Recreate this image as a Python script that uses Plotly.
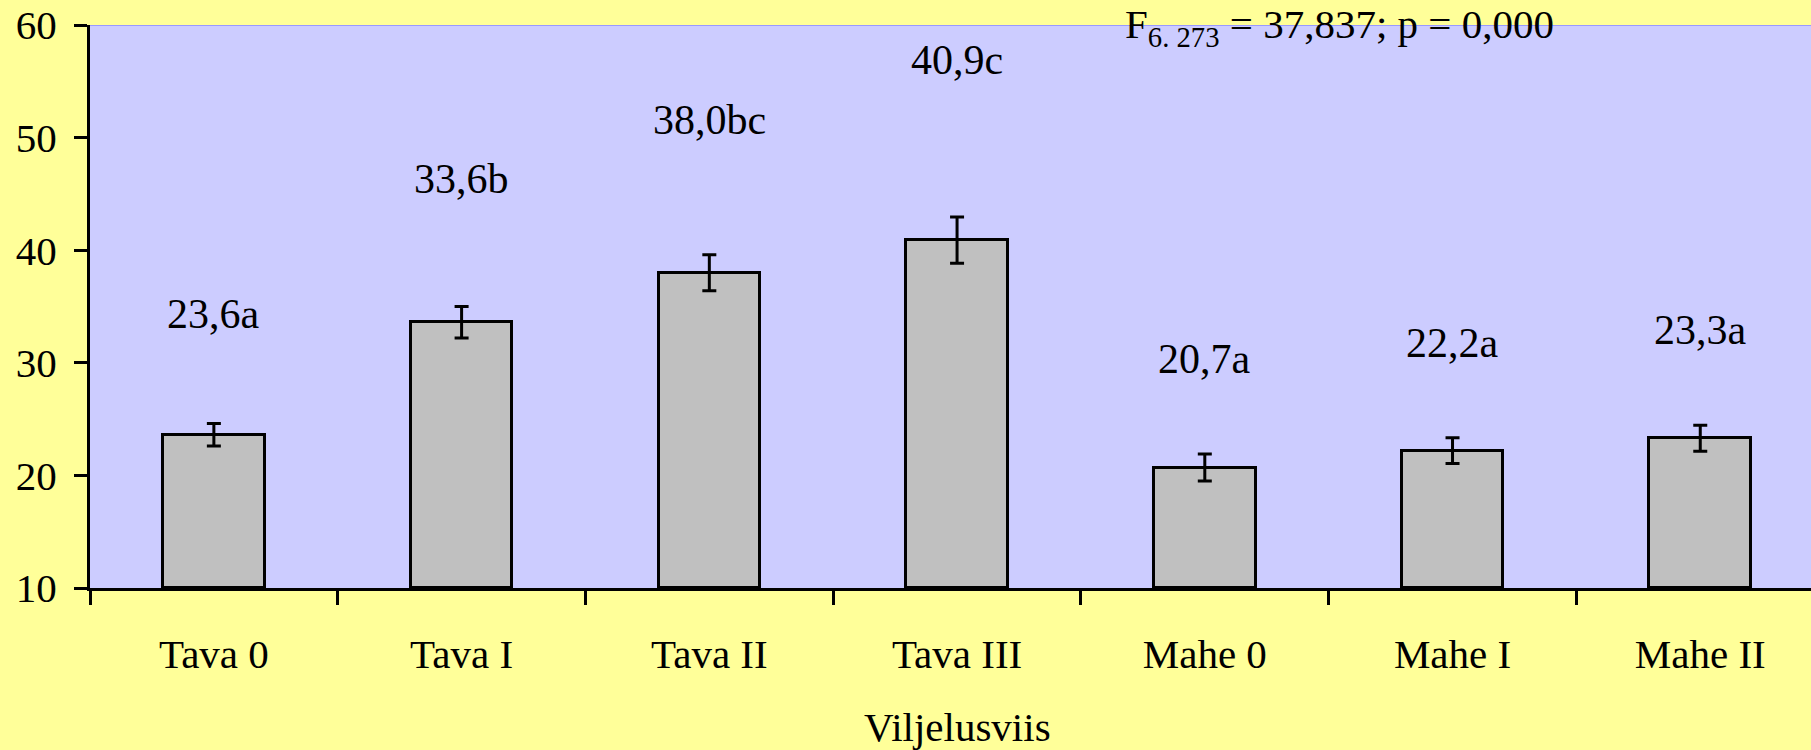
import plotly.graph_objects as go

categories = ["Tava 0", "Tava I", "Tava II", "Tava III", "Mahe 0", "Mahe I", "Mahe II"]
means = [23.6, 33.6, 38.0, 40.9, 20.7, 22.2, 23.3]
errors = [1.0, 1.4, 1.6, 2.05, 1.2, 1.15, 1.15]
labels = ["23,6a", "33,6b", "38,0bc", "40,9c", "20,7a", "22,2a", "23,3a"]
label_y = [34.3, 46.3, 51.6, 56.9, 30.3, 31.8, 32.9]

FONT = "Liberation Serif, Times New Roman, serif"
FS = 41

fig = go.Figure()
fig.add_trace(go.Bar(
    x=categories, y=[m - 10 for m in means], base=10,
    width=0.41,
    marker=dict(color="#C0C0C0", line=dict(color="black", width=3)),
    error_y=dict(type="data", array=errors, color="black", thickness=3, width=7),
    hoverinfo="skip",
))

for c, t, ly in zip(categories, labels, label_y):
    fig.add_annotation(x=c, y=ly, text=t, showarrow=False,
                       font=dict(family=FONT, size=42, color="black"),
                       xanchor="center", yanchor="middle")

fig.add_annotation(xref="paper", yref="paper", x=0.726, y=1, yshift=-2,
                   text="F<sub>6. 273</sub> = 37,837; p = 0,000", showarrow=False,
                   font=dict(family=FONT, size=41, color="black"),
                   xanchor="center", yanchor="middle")

fig.add_annotation(xref="paper", yref="paper", x=0.504, y=0, yshift=-139,
                   text="Viljelusviis", showarrow=False,
                   font=dict(family=FONT, size=FS, color="black"),
                   xanchor="center", yanchor="middle")

fig.add_shape(type="line", xref="paper", yref="y", x0=0, x1=1, y0=60, y1=60,
              line=dict(color="#9999FF", width=2), layer="below")

fig.update_layout(
    width=1811, height=750,
    margin=dict(l=90, r=0, t=25, b=162),
    paper_bgcolor="#FFFF99", plot_bgcolor="#CCCCFF",
    showlegend=False, bargap=0,
    font=dict(family=FONT, size=FS, color="black"),
    xaxis=dict(type="category", range=[-0.5, 6.447], tickson="boundaries",
               ticks="outside", ticklen=14, tickwidth=3, tickcolor="black",
               showline=True, linecolor="black", linewidth=3,
               showgrid=False, zeroline=False, ticklabelstandoff=28,
               tickfont=dict(family=FONT, size=FS, color="black")),
    yaxis=dict(range=[10, 60], tickvals=[10, 20, 30, 40, 50, 60],
               ticks="outside", ticklen=13, tickwidth=3, tickcolor="black",
               showline=True, linecolor="black", linewidth=3,
               showgrid=False, zeroline=False, ticklabelstandoff=9,
               tickfont=dict(family=FONT, size=FS, color="black")),
)

fig.write_html("out.html", config={"displayModeBar": False},
               post_script="document.body.style.margin='0';document.body.style.overflow='hidden';")
